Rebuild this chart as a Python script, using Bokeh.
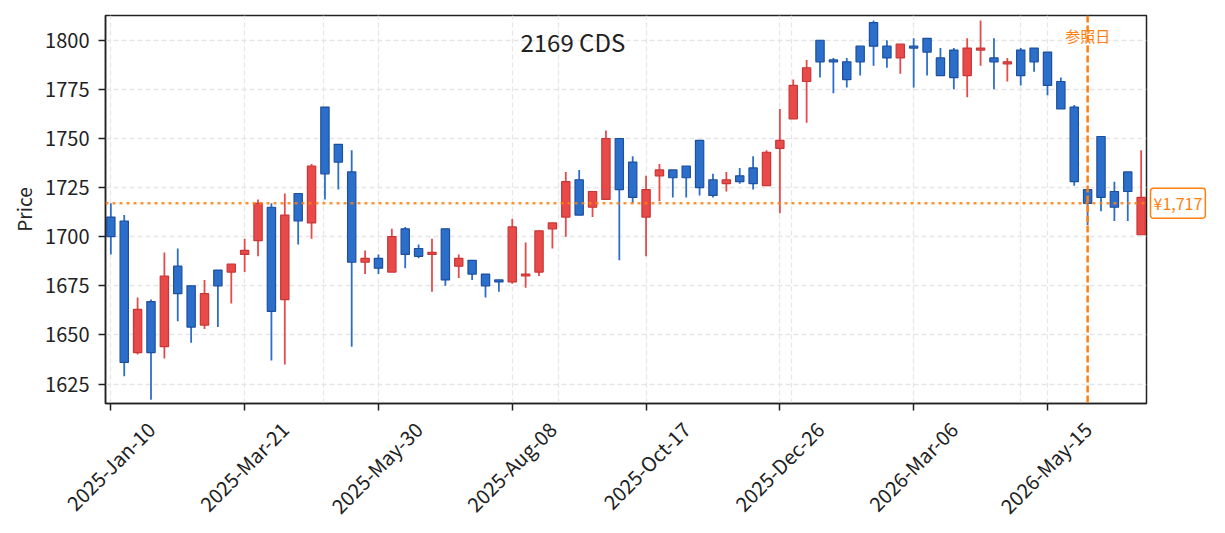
import numpy as np
import pandas as pd
from bokeh.plotting import figure
from bokeh.models import (ColumnDataSource, Range1d, FixedTicker, DatetimeTickFormatter,
                          SingleIntervalTicker, Span, Label, DatetimeAxis, Grid)
from bokeh.embed import file_html
from bokeh.resources import INLINE

# ---------------- data ----------------
start_date = "2025-01-10"
opens = [1710, 1708, 1641, 1667, 1644, 1685, 1675, 1655, 1683, 1682,
         1691, 1698, 1715, 1668, 1722, 1707, 1766, 1747, 1733, 1687,
         1689, 1682, 1704, 1694, 1691, 1704, 1685, 1688, 1681, 1678,
         1677, 1680, 1682, 1704, 1710, 1729, 1715, 1719, 1750, 1738,
         1710, 1731, 1734, 1736, 1749, 1729, 1727, 1731, 1735, 1726,
         1745, 1760, 1779, 1800, 1790, 1789, 1797, 1809, 1797, 1791,
         1797, 1801, 1791, 1795, 1782, 1795, 1791, 1788, 1795, 1796,
         1794, 1779, 1766, 1724, 1751, 1723, 1733, 1701]
highs = [1717, 1711, 1669, 1668, 1692, 1694, 1675, 1678, 1683, 1686,
         1699, 1719, 1717, 1722, 1722, 1737, 1766, 1747, 1744, 1693,
         1691, 1704, 1705, 1696, 1699, 1704, 1691, 1688, 1681, 1678,
         1709, 1697, 1703, 1707, 1733, 1734, 1723, 1754, 1750, 1741,
         1731, 1737, 1734, 1736, 1749, 1732, 1733, 1735, 1741, 1744,
         1765, 1780, 1790, 1800, 1791, 1791, 1797, 1810, 1800, 1798,
         1801, 1801, 1796, 1796, 1801, 1810, 1801, 1791, 1796, 1796,
         1794, 1781, 1767, 1724, 1751, 1728, 1733, 1744]
lows = [1691, 1629, 1640, 1617, 1638, 1657, 1646, 1653, 1654, 1666,
        1682, 1690, 1637, 1635, 1696, 1699, 1719, 1724, 1644, 1681,
        1681, 1682, 1684, 1689, 1672, 1675, 1679, 1678, 1669, 1672,
        1676, 1674, 1680, 1694, 1700, 1711, 1710, 1719, 1688, 1717,
        1690, 1718, 1720, 1720, 1721, 1720, 1723, 1727, 1724, 1726,
        1712, 1760, 1758, 1781, 1773, 1776, 1782, 1787, 1786, 1783,
        1776, 1782, 1782, 1775, 1771, 1787, 1775, 1779, 1777, 1784,
        1772, 1765, 1726, 1706, 1713, 1708, 1708, 1701]
closes = [1700, 1636, 1663, 1641, 1680, 1671, 1654, 1671, 1675, 1686,
          1693, 1717, 1662, 1711, 1708, 1736, 1732, 1738, 1687, 1689,
          1684, 1700, 1691, 1690, 1692, 1678, 1689, 1681, 1675, 1677,
          1705, 1681, 1703, 1707, 1728, 1711, 1723, 1750, 1724, 1720,
          1724, 1734, 1730, 1730, 1725, 1721, 1729, 1728, 1727, 1743,
          1749, 1777, 1786, 1789, 1789, 1780, 1789, 1797, 1791, 1798,
          1796, 1794, 1782, 1781, 1796, 1796, 1789, 1789, 1782, 1789,
          1777, 1765, 1728, 1717, 1720, 1715, 1723, 1720]
ref_date = "2026-06-05"
ref_price = 1717
ref_label = "参照日"
price_label = "¥1,717"
title_text = "2169  CDS"
y_label = "Price"
tick_every = 10

# ---------------- styling ----------------
FONT = "Noto Sans CJK JP"
UP_FILL, UP_EDGE = "#e84a4a", "#c93636"
DN_FILL, DN_EDGE = "#2c6fcb", "#1d4f9f"
ORANGE = "#ff7f0e"
INK = "#222222"
FRAME_W, FRAME_H = 1041, 388

dates = pd.date_range(start_date, periods=len(opens), freq="7D")
x_ms = dates.asi8 / 1e6
week = 7 * 24 * 3600 * 1000.0

up = [c >= o for o, c in zip(opens, closes)]
src = ColumnDataSource(dict(
    x=x_ms,
    high=highs, low=lows,
    top=[max(o, c) for o, c in zip(opens, closes)],
    bottom=[min(o, c) for o, c in zip(opens, closes)],
    fill=[UP_FILL if u else DN_FILL for u in up],
    edge=[UP_EDGE if u else DN_EDGE for u in up],
))

x0 = x_ms[0] - 0.4 * week
x1 = x_ms[-1] + 0.4 * week
y0, y1 = 1615.1, 1812.6

p = figure(frame_width=FRAME_W, frame_height=FRAME_H,
           x_axis_type="datetime", x_axis_location=None,
           title=None, x_range=Range1d(x0, x1), y_range=Range1d(y0, y1),
           output_backend="svg", toolbar_location=None,
           min_border_left=105, min_border_right=71,
           min_border_top=15, min_border_bottom=122)
p.background_fill_color = "white"
p.border_fill_color = "white"
p.outline_line_color = INK
p.outline_line_width = 1.5

p.segment(x0="x", y0="high", x1="x", y1="low", source=src,
          line_color="fill", line_width=1.8)
p.vbar(x="x", width=0.62 * week, top="top", bottom="bottom", source=src,
       fill_color="fill", line_color="edge", line_width=1.2)

# ---------------- axes ----------------
tick_ms = list(x_ms[::tick_every])
fmt = "%Y-%b-%d"
dt_fmt = DatetimeTickFormatter(
    microseconds=fmt, milliseconds=fmt, seconds=fmt, minsec=fmt, minutes=fmt,
    hourmin=fmt, hours=fmt, days=fmt, months=fmt, years=fmt)

# The bottom axis lives on a range shifted by a few pixels so that each
# rotated date label ends up centred under its tick; the tick marks
# themselves are placed (as minor ticks) back at the true dates.
shift_px = 40
shift = shift_px * (x1 - x0) / FRAME_W
p.extra_x_ranges = {"labels": Range1d(x0 - shift, x1 - shift)}
xaxis = DatetimeAxis(
    x_range_name="labels",
    ticker=FixedTicker(ticks=tick_ms, minor_ticks=[t - shift for t in tick_ms]),
    formatter=dt_fmt, major_label_orientation=np.pi / 4,
    axis_line_color=INK, axis_line_width=1.5,
    major_tick_line_color=None, major_tick_out=0, major_tick_in=0,
    minor_tick_line_color=INK, minor_tick_line_width=1.5,
    minor_tick_out=7, minor_tick_in=0,
    major_label_standoff=15, major_label_text_font=FONT,
    major_label_text_font_size="20px", major_label_text_color=INK)
p.add_layout(xaxis, "below")
p.add_layout(Grid(dimension=0, ticker=FixedTicker(ticks=tick_ms)))

yax = p.yaxis[0]
yax.ticker = SingleIntervalTicker(interval=25, num_minor_ticks=0)
yax.axis_label = y_label
yax.axis_line_color = INK
yax.axis_line_width = 1.5
yax.major_tick_line_color = INK
yax.major_tick_line_width = 1.5
yax.major_tick_out = 7
yax.major_tick_in = 0
yax.minor_tick_line_color = None
yax.major_label_text_font = FONT
yax.major_label_text_font_size = "20px"
yax.major_label_text_color = INK
yax.major_label_standoff = 9
yax.axis_label_text_font = FONT
yax.axis_label_text_font_size = "19px"
yax.axis_label_text_font_style = "normal"
yax.axis_label_text_color = INK
yax.axis_label_standoff = 5

p.grid.grid_line_color = "#e6e6e6"
p.grid.grid_line_dash = "5 3"
p.grid.grid_line_width = 1.3

# ---------------- reference lines ----------------
p.add_layout(Span(location=ref_price, dimension="width", line_color=ORANGE,
                  line_alpha=0.85, line_width=2.6, line_dash="3 4"))
ref_ms = pd.Timestamp(ref_date).value / 1e6
p.add_layout(Span(location=ref_ms, dimension="height", line_color=ORANGE,
                  line_width=2.5, line_dash="7 3"))

p.add_layout(Label(x=ref_ms, y=1802.2, text=ref_label, text_align="center",
                   text_baseline="middle", text_font=FONT, text_font_size="15px",
                   text_color=ORANGE))
p.add_layout(Label(x=x0 + 0.4515 * (x1 - x0), y=1799.5, text=title_text,
                   text_align="center", text_baseline="middle", text_font=FONT,
                   text_font_size="24px", text_color=INK))

# ---------------- price tag, in the right-hand panel (outside the frame) ----------------
p.add_layout(Label(x=x1, y=ref_price, x_offset=4, text=price_label,
                   text_align="left", text_baseline="middle", text_font=FONT,
                   text_font_size="16px", text_color=ORANGE,
                   background_fill_color="white", border_line_color=ORANGE,
                   border_line_width=1.5, padding=3, border_radius=3), "right")

open("out.html", "w").write(file_html(p, INLINE))
